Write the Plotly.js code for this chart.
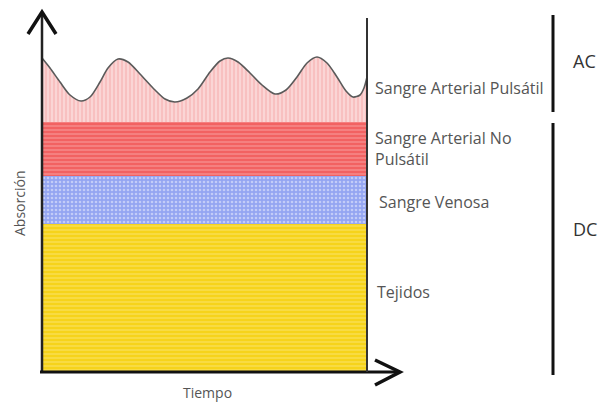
<!DOCTYPE html>
<html>
<head>
<meta charset="utf-8">
<script src="https://cdn.plot.ly/plotly-3.0.1.min.js"></script>
<style>html,body{margin:0;padding:0;background:#fff;}#chart{width:602px;height:403px;}</style>
</head>
<body>
<div id="chart"></div>
<script>
// ---- Data (arbitrary units) ----
const time = [0, 0.8, 1.8, 2.8, 3.9, 4.8, 5.8, 6.6, 7.6, 8.6, 9.8, 11.3, 12.3, 13.3, 14.5, 15.6, 16.8, 17.8, 18.6, 19.6, 20.8, 22.0, 23.3, 24.4, 25.5, 26.5, 27.5, 28.5, 29.5, 30.4, 31.1, 31.8, 32.2, 32.5];
const pulsatileTop = [31.4, 30.4, 29.0, 27.7, 27.1, 27.5, 29.0, 30.4, 31.3, 31.0, 29.8, 28.2, 27.3, 27.0, 27.4, 28.3, 30.0, 31.1, 31.4, 31.0, 29.9, 28.7, 27.8, 28.2, 29.5, 30.9, 31.5, 30.9, 29.5, 28.1, 27.5, 27.7, 28.4, 29.5];
const layerNames = ["Tejidos", "Sangre Venosa", "Sangre Arterial No Pulsátil", "Sangre Arterial Pulsátil"];
const tejidosTop = 14.8;
const venosaTop = 19.6;
const arterialNoPulsatilTop = 25.0;
const layerLabels = ["Sangre Arterial Pulsátil", "Sangre Arterial No<br>Pulsátil", "Sangre Venosa", "Tejidos"];
const groupLabels = ["AC", "DC"];
const xTitle = "Tiempo";
const yTitle = "Absorción";

// ---- Layout helpers (pixel -> paper) ----
const L = 42, R = 367, T = 12, B = 372;
const px = x => (x - L) / (R - L);
const py = y => (B - y) / (B - T);

const flat = v => time.map(() => v);

const traces = [
  {x: time, y: flat(tejidosTop), type: 'scatter', mode: 'lines', name: layerNames[0],
   line: {width: 0, color: '#f6d41e'}, fill: 'tozeroy', fillcolor: '#f6d41e',
   fillpattern: {shape: '-', bgcolor: '#f6d31a', fgcolor: '#fae46a', size: 4, solidity: 0.25}},
  {x: time, y: flat(venosaTop), type: 'scatter', mode: 'lines', name: layerNames[1],
   line: {width: 0, color: '#93a4f2'}, fill: 'tonexty', fillcolor: '#93a4f2',
   fillpattern: {shape: '.', bgcolor: '#94a5f2', fgcolor: '#c3ccf8', size: 4, solidity: 0.35}},
  {x: time, y: flat(arterialNoPulsatilTop), type: 'scatter', mode: 'lines', name: layerNames[2],
   line: {width: 0, color: '#f26464'}, fill: 'tonexty', fillcolor: '#f26464',
   fillpattern: {shape: '-', bgcolor: '#f26262', fgcolor: '#f79494', size: 4, solidity: 0.3}},
  {x: time, y: pulsatileTop, type: 'scatter', mode: 'lines', name: layerNames[3],
   line: {width: 1.6, color: '#5a5a5a', shape: 'spline', smoothing: 0.8},
   fill: 'tonexty', fillcolor: '#f8c2c2',
   fillpattern: {shape: '|', bgcolor: '#f8c0c0', fgcolor: '#fde4e4', size: 4, solidity: 0.3}}
];

const txt = {family: '"Open Sans", Lato, sans-serif', size: 16, color: '#555'};
const ann = (x, y, text, extra) => Object.assign({xref: 'paper', yref: 'paper', x: px(x), y: py(y), text: text,
  showarrow: false, xanchor: 'left', yanchor: 'middle', align: 'left', font: txt}, extra || {});

const annotations = [
  ann(373, 88, layerLabels[0]),
  ann(373, 148, layerLabels[1]),
  ann(377, 202, layerLabels[2]),
  ann(375, 292, layerLabels[3]),
  ann(571, 61, groupLabels[0], {font: {family: txt.family, size: 18, color: '#333'}}),
  ann(571, 229, groupLabels[1], {font: {family: txt.family, size: 18, color: '#333'}}),
  ann(207, 392, xTitle, {xanchor: 'center', font: Object.assign({}, txt, {size: 14})}),
  ann(19, 204, yTitle, {xanchor: 'center', textangle: -90, font: Object.assign({}, txt, {size: 14})})
];

const ln = (x0, y0, x1, y1, color, width) => ({type: 'line', xref: 'paper', yref: 'paper',
  x0: px(x0), y0: py(y0), x1: px(x1), y1: py(y1), line: {color: color, width: width}, layer: 'above'});
const path = (pts, color, width) => ({type: 'path', xref: 'paper', yref: 'paper', layer: 'above',
  path: 'M' + pts.map(p => px(p[0]) + ',' + py(p[1])).join(' L'), line: {color: color, width: width}});

const shapes = [
  ln(42, 12, 42, 372, '#222', 2.5),
  ln(40, 372, 399, 372, '#111', 3),
  path([[28, 34], [42, 12], [56, 34]], '#111', 3.5),
  path([[375, 360], [400, 372], [375, 385]], '#111', 3.5),
  ln(367, 18, 367, 372, '#333', 2),
  ln(553, 15, 553, 112, '#111', 3),
  ln(553, 123, 553, 375, '#111', 3)
];

const layout = {
  width: 602, height: 403,
  margin: {l: L, r: 602 - R, t: T, b: 403 - B, pad: 0},
  paper_bgcolor: '#fff', plot_bgcolor: '#fff',
  showlegend: false, hovermode: false,
  xaxis: {range: [0, 32.5], showgrid: false, zeroline: false, showticklabels: false, showline: false, fixedrange: true},
  yaxis: {range: [0, 36], showgrid: false, zeroline: false, showticklabels: false, showline: false, fixedrange: true},
  annotations: annotations,
  shapes: shapes
};

Plotly.newPlot('chart', traces, layout, {displayModeBar: false, staticPlot: true});
</script>
</body>
</html>
